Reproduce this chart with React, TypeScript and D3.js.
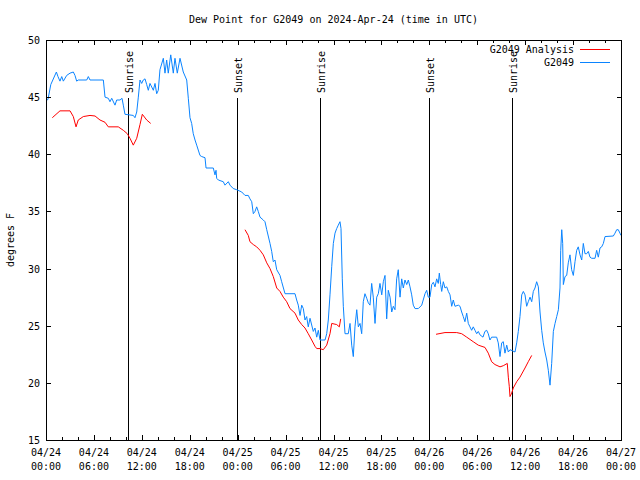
import React from "react";
import * as d3 from "d3";

// hours since 2024-04-24 00:00 UTC, dew point (°F)
const g2049Obs: [number, number][] = [
  [0,44.7],[0.25,44.8],[0.6,46.1],[1.3,47.2],[1.5,46.8],[1.75,46.4],[1.97,46.8],[2.17,46.4],[2.59,46.9],[3.01,47.1],
  [3.42,47.2],[3.63,46.9],[3.84,46.4],[4.04,46.5],[5.1,46.5],[5.3,46.8],[5.51,46.5],[7.18,46.5],[7.39,45.0],[7.8,44.9],
  [8.01,44.6],[8.23,44.9],[8.64,44.3],[8.85,44.75],[9.27,44.75],[9.52,44.9],[9.68,44.3],[9.89,43.5],[10.93,43.4],[11.14,43.2],
  [11.36,43.7],[11.56,45.0],[11.77,46.5],[11.98,46.2],[12.18,46.5],[12.4,46.6],[12.61,46.1],[12.81,45.6],[13.02,46.2],[13.44,45.6],
  [13.65,46.2],[13.86,45.3],[14.06,45.6],[14.27,47.4],[14.69,48.4],[14.9,47.1],[15.11,48.25],[15.31,47.1],[15.62,48.7],[15.94,47.1],
  [16.15,48.4],[16.44,47.1],[16.78,48.4],[17.19,47.2],[17.62,46.5],[17.82,44.9],[18.03,43.2],[18.24,42.7],[18.44,41.8],[18.66,41.25],
  [18.87,40.8],[19.28,39.9],[19.5,39.8],[19.91,39.7],[20.04,38.8],[20.95,38.8],[21.16,38.2],[21.29,38.6],[21.37,37.9],[21.58,37.75],
  [22.2,37.6],[22.41,37.3],[22.83,37.6],[23.04,37.3],[23.45,37.0],[23.88,36.9],[24.51,36.7],[24.92,36.4],[25.33,36.4],[25.54,36.1],
  [25.76,35.85],[25.96,34.8],[26.17,35.0],[26.38,35.4],[26.58,35.0],[26.8,34.5],[27.21,34.25],[27.42,34.1],[27.64,33.4],[28.05,32.2],
  [28.26,31.5],[28.46,30.6],[28.67,30.75],[28.89,29.9],[29.3,29.4],[29.51,28.85],[29.93,27.8],[31.18,27.8],[31.39,27.25],[31.59,26.8],
  [31.81,25.9],[32.02,26.8],[32.22,26.5],[32.43,25.5],[32.64,25.8],[32.84,24.9],[33.06,25.65],[33.47,24.5],[33.68,24.8],[33.9,24.0],
  [34.1,24.6],[34.31,23.75],[34.94,23.75],[35.15,24.3],[35.35,25.5],[35.56,27.7],[35.78,30.2],[35.98,32.2],[36.19,33.1],[36.4,33.5],
  [36.6,33.8],[36.81,34.1],[36.94,33.5],[37.1,29.1],[37.23,26.7],[37.44,24.3],[37.85,24.3],[38.07,25.2],[38.28,23.3],[38.48,22.3],
  [38.69,24.9],[38.91,26.4],[39.11,24.9],[39.32,25.2],[39.53,24.3],[39.73,27.1],[39.94,27.8],[40.16,27.4],[40.36,27.0],[40.57,26.8],
  [40.78,28.7],[40.98,27.5],[41.2,25.2],[41.41,27.5],[41.61,27.8],[41.82,28.7],[42.04,27.7],[42.24,28.85],[42.45,29.4],[42.66,25.6],
  [42.86,28.1],[43.08,27.5],[43.29,26.2],[43.49,26.7],[43.7,26.4],[43.91,29.1],[44.11,29.9],[44.33,27.5],[44.54,29.1],[44.74,28.3],
  [44.95,29.0],[45.17,28.6],[45.37,29.0],[45.58,28.4],[45.79,27.7],[45.99,26.8],[46.21,26.5],[46.62,26.5],[47.05,26.8],[47.46,27.8],
  [47.67,28.1],[47.87,27.5],[48.08,27.5],[48.3,28.6],[48.5,28.8],[48.71,28.4],[48.92,29.1],[49.12,28.7],[49.25,29.6],[49.42,28.6],
  [49.55,28.0],[49.75,28.85],[49.96,28.3],[50.18,28.4],[50.38,28.0],[50.59,27.7],[50.8,26.7],[51.0,27.25],[51.21,26.7],[51.63,26.8],
  [51.84,26.7],[52.05,26.2],[52.25,25.8],[52.46,25.35],[52.68,26.1],[52.88,25.2],[53.09,24.9],[53.3,24.6],[53.5,24.9],[53.72,24.6],
  [53.93,24.3],[54.13,24.5],[54.34,24.2],[54.72,24.0],[54.96,24.5],[55.18,24.6],[55.38,24.3],[55.59,23.75],[55.8,24.0],[56.43,24.0],
  [56.63,23.5],[56.85,22.3],[57.06,23.5],[57.26,23.6],[57.47,22.6],[57.69,23.3],[57.89,22.7],[58.1,22.9],[58.73,22.7],[58.94,23.5],
  [59.14,24.5],[59.35,25.8],[59.57,27.7],[59.77,28.0],[59.98,27.7],[60.19,26.7],[60.39,27.1],[60.61,27.5],[60.82,27.1],[61.02,28.0],
  [61.23,28.3],[61.44,28.85],[61.65,28.4],[61.86,26.2],[62.07,24.6],[62.27,23.5],[62.48,22.7],[62.7,22.0],[62.9,21.1],[63.11,19.8],
  [63.32,21.7],[63.53,24.5],[63.74,25.2],[63.95,25.8],[64.16,26.4],[64.36,28.3],[64.45,31.6],[64.58,33.4],[64.7,32.2],[64.78,28.6],
  [64.99,29.3],[65.2,29.4],[65.4,30.5],[65.61,31.2],[65.82,29.9],[66.03,29.4],[66.24,30.6],[66.45,31.6],[66.65,31.9],[66.87,31.2],
  [67.08,30.75],[67.28,32.2],[67.49,31.3],[67.7,31.3],[67.91,31.5],[68.12,31.0],[68.33,30.9],[68.75,30.9],[68.95,31.6],[69.16,31.0],
  [69.37,31.8],[69.58,31.9],[69.79,32.2],[70.0,32.8],[71.04,32.85],[71.25,33.1],[71.46,33.4],[71.66,33.4],[71.87,33.1],[72,32.9],
];

const analysisRun1: [number, number][] = [
  [0.79,43.2],[1.75,43.8],[3.01,43.8],[3.42,43.3],[3.76,42.4],[4.04,43.0],[4.67,43.3],[5.51,43.4],[6.14,43.35],[6.76,43.0],
  [7.39,42.8],[7.8,42.4],[9.05,42.4],[9.68,42.1],[10.18,41.8],[10.52,41.4],[10.93,40.8],[11.36,41.4],[11.77,42.6],[12.06,43.5],
  [12.61,43.0],[13.11,42.7],
];
const analysisRun2: [number, number][] = [
  [24.92,33.4],[25.33,32.9],[25.54,32.35],[25.96,32.1],[26.38,31.9],[26.8,31.6],[27.21,31.2],[27.64,30.5],[28.05,30.0],[28.46,29.3],
  [28.89,28.3],[29.3,28.0],[29.71,27.5],[30.14,27.1],[30.55,26.5],[31.18,26.1],[31.59,25.5],[32.02,25.1],[32.43,24.8],[32.84,24.3],
  [33.27,23.75],[33.68,23.2],[33.9,23.0],[34.31,23.0],[34.72,22.9],[35.15,23.3],[35.56,24.3],[35.78,25.2],[36.4,25.1],[36.73,24.9],
  [36.9,25.6],
];
const analysisRun3: [number, number][] = [
  [48.84,24.25],[49.96,24.4],[51.43,24.4],[52.05,24.3],[52.68,24.0],[53.5,23.6],[54.13,23.3],[54.97,23.1],[55.38,22.6],[55.8,21.85],
  [56.22,21.6],[56.85,21.4],[57.26,21.5],[57.76,21.7],[57.89,20.5],[58.01,19.7],[58.1,18.8],[58.31,19.1],[58.51,19.55],[58.94,20.1],
  [59.35,20.5],[59.98,21.3],[60.39,21.85],[60.82,22.4],
];

const sunriseHours = [10.27, 34.33, 58.3];
const sunsetHours = [23.93, 47.95];

const xTickDays = ["04/24","04/24","04/24","04/24","04/25","04/25","04/25","04/25","04/26","04/26","04/26","04/26","04/27"];
const xTickTimes = ["00:00","06:00","12:00","18:00","00:00","06:00","12:00","18:00","00:00","06:00","12:00","18:00","00:00"];
const yTicks = [15, 20, 25, 30, 35, 40, 45, 50];

const FONT = "'DejaVu Sans Mono', monospace";

export default function App() {
  const L = 46, R = 621, T = 40, B = 440;
  const x = d3.scaleLinear().domain([0, 72]).range([L, R]);
  const y = d3.scaleLinear().domain([15, 50]).range([B, T]);
  const line = d3.line<[number, number]>().x(d => x(d[0])).y(d => y(d[1]));
  const px = (v: number) => Math.round(v) + 0.5;
  const majorX = d3.range(0, 73, 6);
  const minorX = d3.range(0, 73, 2).filter(h => h % 6 !== 0);
  const blue = "#0a84ff";
  const red = "#ff0000";

  const events = [
    ...sunriseHours.map(h => ({ h, label: "Sunrise" })),
    ...sunsetHours.map(h => ({ h, label: "Sunset" })),
  ];

  return (
    <svg width={640} height={480} style={{ position: "absolute", left: 0, top: 0, background: "#fff" }}
      fontFamily={FONT} fontSize={10}>
      <rect x={0} y={0} width={640} height={480} fill="#fff" />
      {events.map((e, i) => (
        <g key={"ev" + i}>
          <line x1={px(x(e.h))} x2={px(x(e.h))} y1={98} y2={B} stroke="#000" strokeWidth={1} shapeRendering="crispEdges" />
          <text transform={`translate(${px(x(e.h)) + 4},93) rotate(-90)`} fill="#000">{e.label}</text>
        </g>
      ))}
      <path d={line(g2049Obs) || ""} fill="none" stroke={blue} strokeWidth={1} />
      {[analysisRun1, analysisRun2, analysisRun3].map((run, i) => (
        <path key={"an" + i} d={line(run) || ""} fill="none" stroke={red} strokeWidth={1} />
      ))}
      <rect x={L + 0.5} y={T + 0.5} width={R - L} height={B - T} fill="none" stroke="#000" strokeWidth={1} shapeRendering="crispEdges" />
      {majorX.map((h, i) => (
        <g key={"mx" + i}>
          <line x1={px(x(h))} x2={px(x(h))} y1={B} y2={B - 5} stroke="#000" shapeRendering="crispEdges" />
          <line x1={px(x(h))} x2={px(x(h))} y1={T} y2={T + 5} stroke="#000" shapeRendering="crispEdges" />
          <text x={x(h)} y={456} textAnchor="middle" fill="#000">{xTickDays[i]}</text>
          <text x={x(h)} y={470} textAnchor="middle" fill="#000">{xTickTimes[i]}</text>
        </g>
      ))}
      {minorX.map((h, i) => (
        <g key={"nx" + i}>
          <line x1={px(x(h))} x2={px(x(h))} y1={B} y2={B - 3} stroke="#000" shapeRendering="crispEdges" />
          <line x1={px(x(h))} x2={px(x(h))} y1={T} y2={T + 3} stroke="#000" shapeRendering="crispEdges" />
        </g>
      ))}
      {yTicks.map((v, i) => (
        <g key={"y" + i}>
          <line x1={L} x2={L + 5} y1={px(y(v))} y2={px(y(v))} stroke="#000" shapeRendering="crispEdges" />
          <line x1={R - 4} x2={R} y1={px(y(v))} y2={px(y(v))} stroke="#000" shapeRendering="crispEdges" />
          <text x={40} y={y(v) + 4} textAnchor="end" fill="#000">{v}</text>
        </g>
      ))}
      <text x={(L + R) / 2} y={23} textAnchor="middle" fill="#000">Dew Point for G2049 on 2024-Apr-24 (time in UTC)</text>
      <text transform={`translate(14,${(T + B) / 2}) rotate(-90)`} textAnchor="middle" fill="#000">degrees F</text>
      <text x={574} y={53} textAnchor="end" fill="#000">G2049 Analysis</text>
      <line x1={580} x2={610} y1={49.5} y2={49.5} stroke={red} strokeWidth={1} shapeRendering="crispEdges" />
      <text x={574} y={66} textAnchor="end" fill="#000">G2049</text>
      <line x1={580} x2={610} y1={62.5} y2={62.5} stroke={blue} strokeWidth={1} shapeRendering="crispEdges" />
    </svg>
  );
}
